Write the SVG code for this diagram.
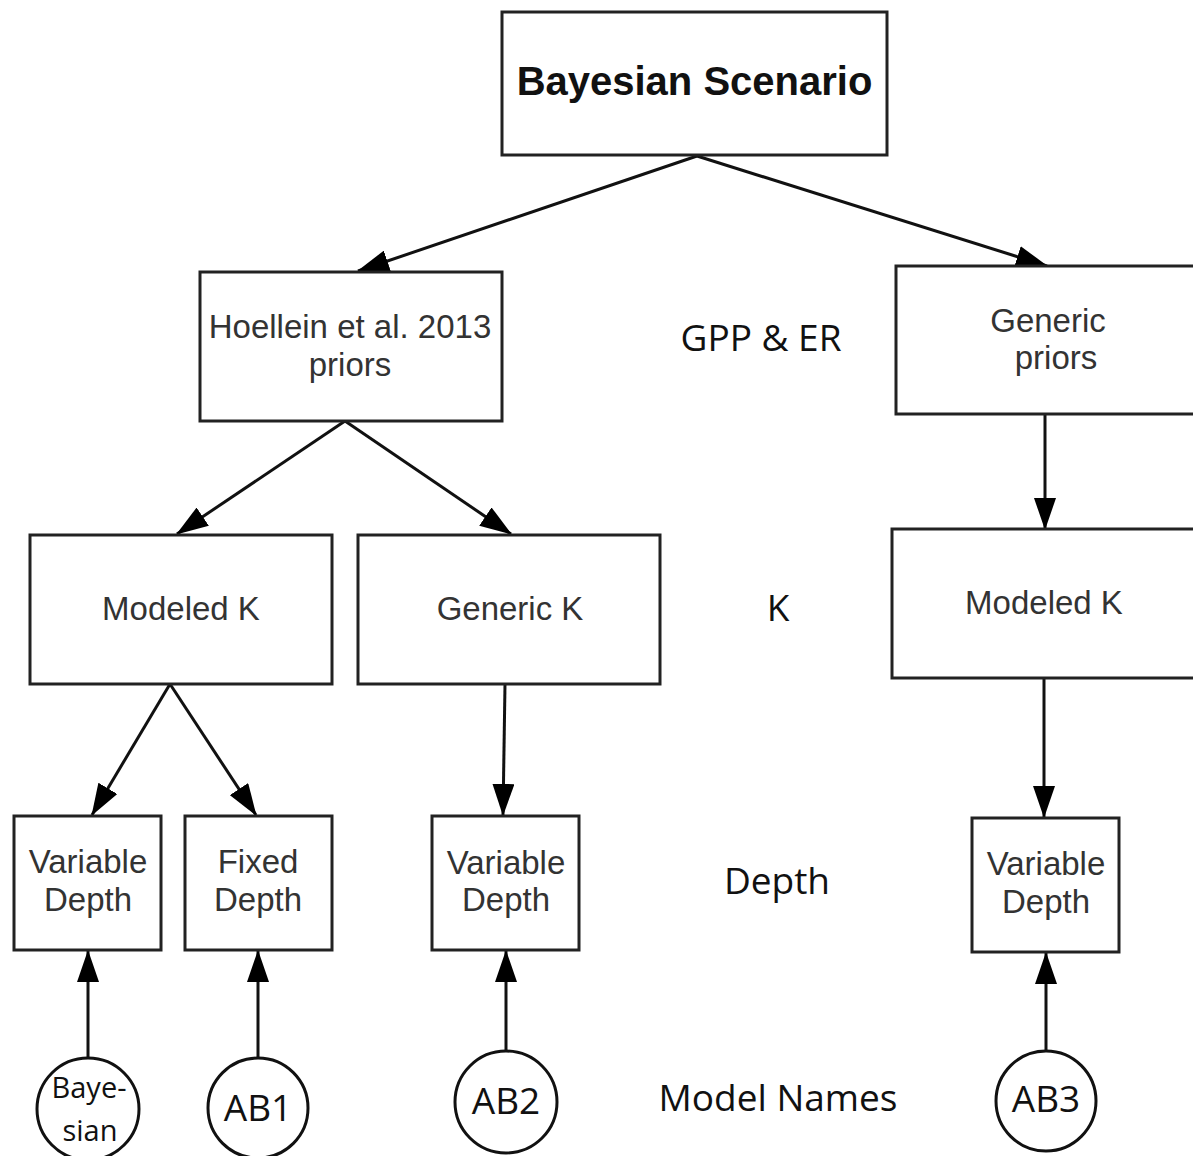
<svg xmlns="http://www.w3.org/2000/svg" width="1193" height="1156" viewBox="0 0 1193 1156">
<defs>
<marker id="ah" markerUnits="userSpaceOnUse" markerWidth="32" markerHeight="22" refX="31" refY="11" orient="auto">
<path d="M0,0 L32,11 L0,22 z" fill="#000"/>
</marker>
<style>
.box{fill:#fff;stroke:#222;stroke-width:3}
.circ{fill:#fff;stroke:#111;stroke-width:3}
.bt{font-family:"Liberation Sans",Arial,sans-serif;font-size:33px;fill:#333;text-anchor:middle}
.title{font-family:"Liberation Sans",Arial,sans-serif;font-size:40px;font-weight:bold;fill:#111;text-anchor:middle}
.lbl{font-family:"Open Sans","DejaVu Sans",sans-serif;font-size:37px;fill:#111;text-anchor:middle}
.ct{font-family:"Open Sans","DejaVu Sans",sans-serif;font-size:37px;fill:#111;text-anchor:middle}
.ct2{font-family:"Open Sans","DejaVu Sans",sans-serif;font-size:29px;fill:#111;text-anchor:middle}
.conn{stroke:#111;stroke-width:3;fill:none;marker-end:url(#ah)}
</style>
</defs>
<rect width="1193" height="1156" fill="#fff"/>
<g id="connectors">
<line class="conn" x1="697" y1="156" x2="358" y2="271"/>
<line class="conn" x1="697" y1="156" x2="1047" y2="266"/>
<line class="conn" x1="345" y1="421" x2="177" y2="534"/>
<line class="conn" x1="345" y1="421" x2="511" y2="534"/>
<line class="conn" x1="1045" y1="414" x2="1045" y2="529"/>
<line class="conn" x1="170" y1="684" x2="92" y2="815"/>
<line class="conn" x1="170" y1="684" x2="256" y2="815"/>
<line class="conn" x1="505" y1="684" x2="503" y2="815"/>
<line class="conn" x1="1044" y1="678" x2="1044" y2="817"/>
<line class="conn" x1="88" y1="1058" x2="88" y2="951"/>
<line class="conn" x1="258" y1="1058" x2="258" y2="951"/>
<line class="conn" x1="506" y1="1052" x2="506" y2="951"/>
<line class="conn" x1="1046" y1="1051" x2="1046" y2="953"/>
</g>
<g id="bayesian-scenario">
<rect class="box" x="502" y="12" width="385" height="143"/>
<text class="title" x="694.5" y="95">Bayesian Scenario</text>
</g>
<g id="hoellein-priors">
<rect class="box" x="200" y="272" width="302" height="149"/>
<text class="bt" x="350" y="338">Hoellein et al. 2013</text>
<text class="bt" x="350" y="376">priors</text>
</g>
<g id="generic-priors">
<rect class="box" x="896" y="266" width="310" height="148"/>
<text class="bt" x="1048" y="332">Generic</text>
<text class="bt" x="1056" y="369">priors</text>
</g>
<g id="modeled-k-left">
<rect class="box" x="30" y="535" width="302" height="149"/>
<text class="bt" x="181" y="620">Modeled K</text>
</g>
<g id="generic-k">
<rect class="box" x="358" y="535" width="302" height="149"/>
<text class="bt" x="510" y="620">Generic K</text>
</g>
<g id="modeled-k-right">
<rect class="box" x="892" y="529" width="310" height="149"/>
<text class="bt" x="1044" y="614">Modeled K</text>
</g>
<g id="variable-depth-1">
<rect class="box" x="14" y="816" width="147" height="134"/>
<text class="bt" x="88" y="873">Variable</text>
<text class="bt" x="88" y="911">Depth</text>
</g>
<g id="fixed-depth">
<rect class="box" x="185" y="816" width="147" height="134"/>
<text class="bt" x="258" y="873">Fixed</text>
<text class="bt" x="258" y="911">Depth</text>
</g>
<g id="variable-depth-2">
<rect class="box" x="432" y="816" width="147" height="134"/>
<text class="bt" x="506" y="874">Variable</text>
<text class="bt" x="506" y="911">Depth</text>
</g>
<g id="variable-depth-3">
<rect class="box" x="972" y="818" width="147" height="134"/>
<text class="bt" x="1046" y="875">Variable</text>
<text class="bt" x="1046" y="913">Depth</text>
</g>
<g id="model-bayesian">
<circle class="circ" cx="88" cy="1109" r="51"/>
<text class="ct2" x="89" y="1098">Baye-</text>
<text class="ct2" x="90" y="1141">sian</text>
</g>
<g id="model-ab1">
<circle class="circ" cx="258" cy="1108" r="50"/>
<text class="ct" x="258" y="1121">AB1</text>
</g>
<g id="model-ab2">
<circle class="circ" cx="506" cy="1102" r="51"/>
<text class="ct" x="506" y="1114">AB2</text>
</g>
<g id="model-ab3">
<circle class="circ" cx="1046" cy="1101" r="50"/>
<text class="ct" x="1046" y="1112">AB3</text>
</g>
<g id="level-labels">
<text class="lbl" x="761" y="351">GPP &amp; ER</text>
<text class="lbl" x="778" y="621">K</text>
<text class="lbl" x="777" y="894">Depth</text>
<text class="lbl" x="778" y="1111">Model Names</text>
</g>
</svg>
